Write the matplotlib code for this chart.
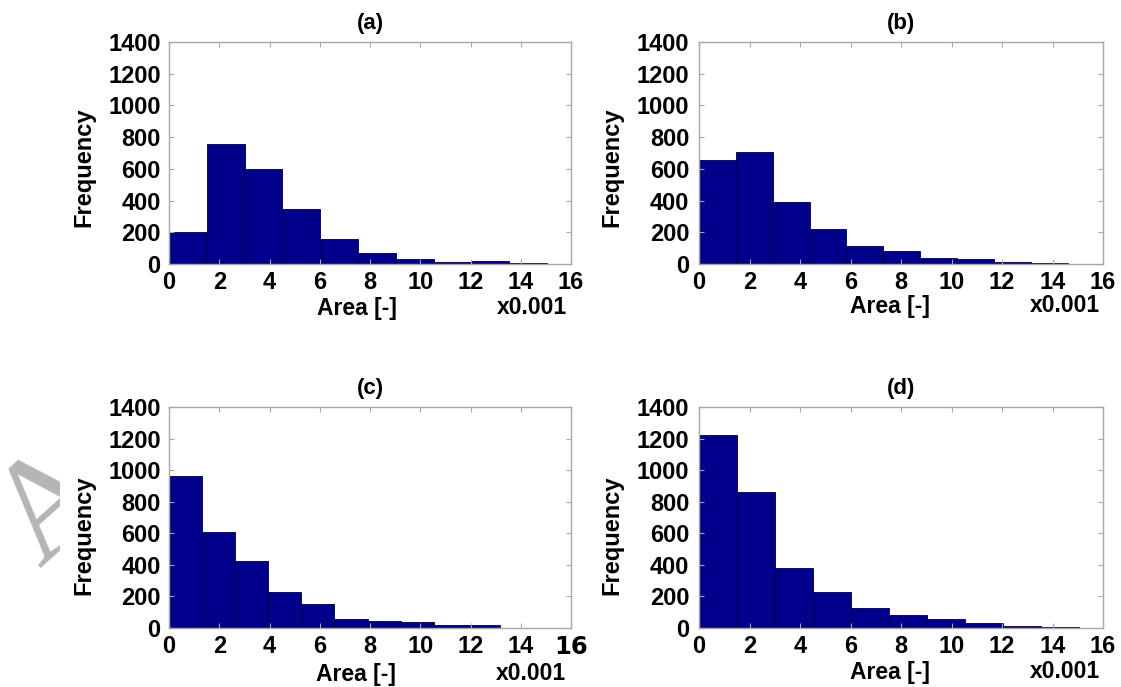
import numpy as np
import matplotlib
matplotlib.use("Agg")
import matplotlib.pyplot as plt
from matplotlib.patches import Rectangle

# ---------------- data ----------------
panel_titles = ["(a)", "(b)", "(c)", "(d)"]
# upper end of the binned range (units of 0.001), bins start at 0
range_max_a = 15.05
range_max_b = 14.6
range_max_c = 13.17
range_max_d = 15.04
counts_a = [200, 756, 600, 345, 158, 69, 29, 15, 19, 4]
counts_b = [659, 709, 394, 219, 114, 80, 38, 29, 15, 6]
counts_c = [963, 610, 424, 226, 154, 59, 42, 36, 21, 17]
counts_d = [1223, 861, 382, 228, 127, 82, 57, 32, 13, 6]
x_ticks = [0, 2, 4, 6, 8, 10, 12, 14, 16]
y_ticks = [0, 200, 400, 600, 800, 1000, 1200, 1400]
x_label = "Area [-]"
y_label = "Frequency"
scale_label = "x0.001"
watermark = "A"

# ---------------- style ----------------
plt.rcParams['font.family'] = ['Liberation Sans', 'DejaVu Sans']
plt.rcParams['font.weight'] = 'bold'
FS = 16.5
bar_color = '#00008B'
edge_color = '#000033'
spine_color = '#a8a8a8'

fig = plt.figure(figsize=(11.21, 6.87), dpi=100)
W, H = 1121.0, 687.0

# watermark letter (only visible in the left margin) and the opaque chart area
fig.text(40 / W, 1 - 568 / H, watermark, rotation=42, rotation_mode='anchor',
         ha='left', va='baseline', fontsize=103, family='Liberation Serif',
         fontweight='normal', color='#b5b5b5', zorder=-2)
fig.add_artist(Rectangle((60 / W, 0), 1 - 60 / W, 1 - 8 / H,
                         transform=fig.transFigure, facecolor='white',
                         edgecolor='none', zorder=-1))

# axes boxes in pixels: left, top, right, bottom
boxes = [(169, 42, 571, 264), (699, 42, 1103, 264),
         (169, 407, 571, 628), (699, 407, 1103, 628)]
ranges = [range_max_a, range_max_b, range_max_c, range_max_d]
counts_all = [counts_a, counts_b, counts_c, counts_d]
ylab_pos = [(84, 167), (612, 167), (84, 535), (612, 535)]
xlab_pos = [(357, 308), (890, 306), (356, 674), (890, 672)]
scale_pos = [(532, 308), (1065, 306), (531, 674), (1065, 672)]

for i in range(4):
    l, t, r, b = boxes[i]
    ax = fig.add_axes([l / W, 1 - b / H, (r - l) / W, (b - t) / H])
    ax.set_facecolor('white')
    edges = np.linspace(0, ranges[i], len(counts_all[i]) + 1)
    ax.bar(edges[:-1], counts_all[i], width=np.diff(edges), align='edge',
           color=bar_color, edgecolor=edge_color, linewidth=0.6)
    ax.set_xlim(0, 16)
    ax.set_ylim(0, 1400)
    ax.set_xticks(x_ticks)
    ax.set_yticks(y_ticks)
    ax.tick_params(direction='in', length=3.5, width=0.8, color=spine_color,
                   top=True, right=True, labelsize=FS + 0.5)
    ax.tick_params(axis='x', pad=5)
    ax.tick_params(axis='y', pad=6 if i % 2 == 0 else 7)
    for lab in ax.get_xticklabels() + ax.get_yticklabels():
        lab.set_fontweight('bold')
    for s in ax.spines.values():
        s.set_color(spine_color)
        s.set_linewidth(1.0)
    ax.set_title(panel_titles[i], fontsize=FS - 0.5, fontweight='bold', pad=9)

    # y label
    ax.set_ylabel(y_label, fontsize=FS + 0.5, fontweight='bold')
    ax.yaxis.label.set_verticalalignment('center')
    yx, yy = ylab_pos[i]
    ax.yaxis.set_label_coords((yx - l) / (r - l), (b - yy) / (b - t))

    # x label and scale note
    xx, xy = xlab_pos[i]
    ax.text((xx - l) / (r - l), (b - xy) / (b - t), x_label,
            transform=ax.transAxes, ha='center', va='center',
            fontsize=FS, fontweight='bold')
    sx, sy = scale_pos[i]
    ax.text((sx - l) / (r - l), (b - sy) / (b - t), scale_label,
            transform=ax.transAxes, ha='center', va='center',
            fontsize=FS, fontweight='bold')

    if i == 2:
        last = ax.get_xticklabels()[-1]
        last.set_fontfamily('DejaVu Sans')
        last.set_fontsize(FS + 1)

fig.savefig("out.png", dpi=100, facecolor='white')
